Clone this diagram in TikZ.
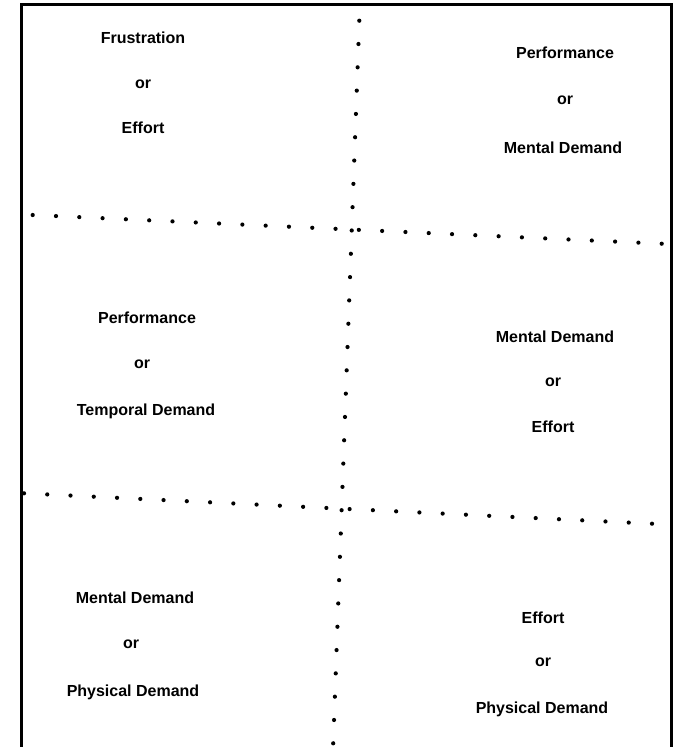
\documentclass[tikz,border=0pt]{standalone}
\usepackage{fontspec}
\setmainfont{Liberation Sans}
\usetikzlibrary{calc}
\tikzset{
  lbl/.style={anchor=base, inner sep=0pt, font=\fontsize{16}{18}\selectfont\bfseries},
  frameline/.style={line width=3pt},
  dotfill/.style={fill=black}
}
\begin{document}
\begin{tikzpicture}[x=1pt,y=-1pt]
\useasboundingbox (0,0) rectangle (674,747);
% frame
\draw[frameline] (21.5,747) -- (21.5,4.5) -- (671.7,4.5) -- (671.7,747);
% dotted lines
\coordinate (v1) at (359.3,20.7);
\coordinate (v2) at (333.2,743.3);
\coordinate (h1a) at (32.7,215);
\coordinate (h1b) at (661.7,243.7);
\coordinate (h2a) at (24,493.3);
\coordinate (h2b) at (652,523.7);
\foreach \i in {0,...,31} \fill[dotfill] ($(v1)!\i/31!(v2)$) circle (2.1);
\foreach \i in {0,...,27} \fill[dotfill] ($(h1a)!\i/27!(h1b)$) circle (2.1);
\foreach \i in {0,...,27} \fill[dotfill] ($(h2a)!\i/27!(h2b)$) circle (2.1);
% top-left
\node[lbl] (tl1) at (143,43) {Frustration};
\node[lbl] (tl2) at (143,88) {or};
\node[lbl] (tl3) at (143,133) {Effort};
% top-right
\node[lbl] (tr1) at (565,58) {Performance};
\node[lbl] (tr2) at (565,104) {or};
\node[lbl] (tr3) at (563,153) {Mental Demand};
% middle-left
\node[lbl] (ml1) at (147,323) {Performance};
\node[lbl] (ml2) at (142,368) {or};
\node[lbl] (ml3) at (146,415) {Temporal Demand};
% middle-right
\node[lbl] (mr1) at (555,342) {Mental Demand};
\node[lbl] (mr2) at (553,386) {or};
\node[lbl] (mr3) at (553,432) {Effort};
% bottom-left
\node[lbl] (bl1) at (135,603) {Mental Demand};
\node[lbl] (bl2) at (131,648) {or};
\node[lbl] (bl3) at (133,696) {Physical Demand};
% bottom-right
\node[lbl] (br1) at (543,623) {Effort};
\node[lbl] (br2) at (543,666) {or};
\node[lbl] (br3) at (542,713) {Physical Demand};
\end{tikzpicture}
\end{document}
